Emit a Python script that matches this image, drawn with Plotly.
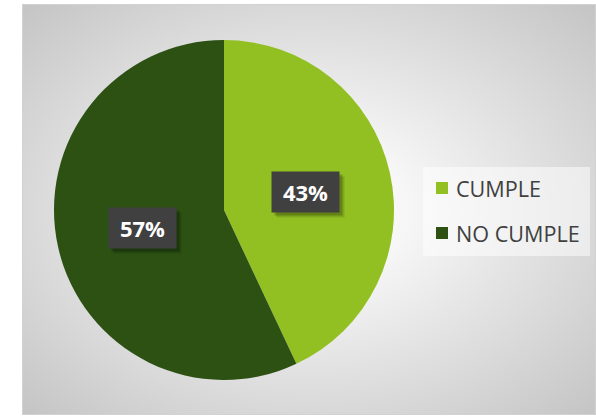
import math
import urllib.parse
import plotly.graph_objects as go

# ---- data ----
labels = ["CUMPLE", "NO CUMPLE"]
values = [43, 57]
colors = ["#92c022", "#2c5113"]

W, H = 596, 417

def px(x):
    return x / W

def py(y):
    return 1 - y / H

# pie geometry (pixels)
cx, cy, R = 224, 210, 170

fig = go.Figure()
fig.add_trace(go.Pie(
    labels=labels,
    values=values,
    marker=dict(colors=colors, line=dict(width=0)),
    sort=False,
    direction="clockwise",
    rotation=0,
    textinfo="none",
    hoverinfo="label+percent",
    showlegend=False,
    domain=dict(x=[px(cx - R), px(cx + R)], y=[py(cy + R), py(cy - R)]),
))

# background gradient frame
svg = (
    "<svg xmlns='http://www.w3.org/2000/svg' width='574' height='411'>"
    "<defs><radialGradient id='g' cx='0.5' cy='0.5' r='0.707'>"
    "<stop offset='0' stop-color='#ffffff'/>"
    "<stop offset='0.25' stop-color='#f6f6f6'/>"
    "<stop offset='1' stop-color='#c4c4c4'/>"
    "</radialGradient></defs>"
    "<rect width='574' height='411' fill='url(#g)'/></svg>"
)
src = "data:image/svg+xml;charset=utf-8," + urllib.parse.quote(svg)

images = [dict(source=src, xref="paper", yref="paper", x=px(22), y=py(4),
               sizex=574 / W, sizey=411 / H, sizing="stretch",
               xanchor="left", yanchor="top", layer="below")]

shapes = [
    dict(type="rect", xref="paper", yref="paper", x0=px(22.5), x1=px(595.5),
         y0=py(414.5), y1=py(4.5), line=dict(color="#d2d2d2", width=1), layer="below"),
    # legend box
    dict(type="rect", xref="paper", yref="paper", x0=px(423), x1=px(590),
         y0=py(256), y1=py(167), fillcolor="rgba(255,255,255,0.5)",
         line=dict(width=0), layer="below"),
]

annotations = []

# data labels (positioned along each slice's mid-angle)
total = sum(values)
cum = 0
for lab, v in zip(labels, values):
    mid = (cum + v / 2) / total * 2 * math.pi
    cum += v
    r = 0.49 * R
    x = cx + r * math.sin(mid)
    y = cy - r * math.cos(mid)
    txt = f"{round(v / total * 100)}%"
    for off, a in [(5, 0.12), (3, 0.22)]:
        annotations.append(dict(
            x=px(x + off), y=py(y + off), xref="paper", yref="paper",
            text=" ", showarrow=False, width=63, height=36, borderpad=2,
            bgcolor=f"rgba(0,0,0,{a})", xanchor="center", yanchor="middle",
        ))
    annotations.append(dict(
        x=px(x), y=py(y), xref="paper", yref="paper",
        text=txt, showarrow=False, width=63, height=36, borderpad=2,
        bgcolor="#404040", xanchor="center", yanchor="middle",
        font=dict(family="Open Sans", size=22, color="white", weight="bold"),
    ))

# legend (manual)
for i, (lab, col) in enumerate(zip(labels, colors)):
    yc = 188 + i * 45
    shapes.append(dict(type="rect", xref="paper", yref="paper",
                       x0=px(436), x1=px(448), y0=py(yc + 6), y1=py(yc - 6),
                       fillcolor=col, line=dict(width=0)))
    annotations.append(dict(
        x=px(454), y=py(yc), xref="paper", yref="paper", text=lab,
        showarrow=False, xanchor="left", yanchor="middle",
        font=dict(family="Open Sans", size=21.6, color="#404040"),
    ))

fig.update_layout(
    width=W, height=H,
    margin=dict(l=0, r=0, t=0, b=0),
    paper_bgcolor="white",
    plot_bgcolor="white",
    images=images,
    shapes=shapes,
    annotations=annotations,
)

fig.write_html(
    "out.html",
    config={"displayModeBar": False},
    post_script="document.body.style.margin='0';document.body.style.overflow='hidden';",
)
